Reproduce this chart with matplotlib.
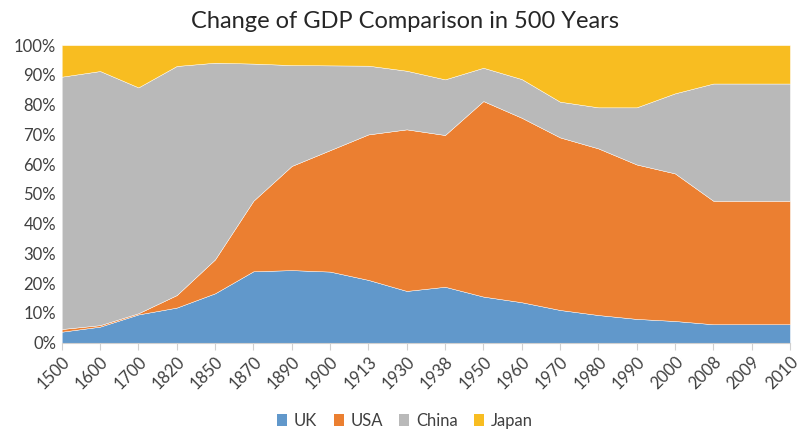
import matplotlib.pyplot as plt
import numpy as np
from matplotlib.patches import Patch
from matplotlib.ticker import PercentFormatter

years = ["1500", "1600", "1700", "1820", "1850", "1870", "1890", "1900", "1913", "1930",
         "1938", "1950", "1960", "1970", "1980", "1990", "2000", "2008", "2009", "2010"]

# share of combined GDP, percent
uk = [3.7, 5.4, 9.5, 11.8, 16.6, 24.0, 24.4, 23.9, 21.1, 17.4,
      18.8, 15.5, 13.6, 11.0, 9.3, 8.0, 7.3, 6.2, 6.2, 6.2]
usa = [0.9, 0.5, 0.4, 4.2, 11.4, 23.7, 35.0, 40.8, 48.9, 54.3,
       51.0, 65.7, 62.0, 58.0, 56.0, 51.9, 49.6, 41.5, 41.5, 41.5]
china = [84.8, 85.4, 75.9, 77.0, 66.1, 46.1, 33.9, 28.5, 23.1, 19.7,
         18.7, 11.2, 13.0, 12.0, 13.8, 19.2, 26.9, 39.4, 39.4, 39.4]
japan = [10.6, 8.7, 14.2, 7.0, 5.9, 6.2, 6.7, 6.8, 6.9, 8.6,
         11.5, 7.6, 11.4, 19.0, 20.9, 20.9, 16.2, 12.9, 12.9, 12.9]

names = ["UK", "USA", "China", "Japan"]
colors = ["#6198CB", "#EB7F31", "#B9B9B9", "#F8BD21"]

plt.rcParams['font.family'] = ['Lato', 'DejaVu Sans']

fig = plt.figure(figsize=(8.1, 4.3), dpi=100)
ax = fig.add_axes([0.0762, 0.203, 0.899, 0.692])

x = np.arange(len(years))
ax.stackplot(x, uk, usa, china, japan, colors=colors, edgecolor="white", linewidth=0.3)

ax.set_xlim(0, len(years) - 1)
ax.set_ylim(0, 100)
ax.set_yticks(range(0, 101, 10))
ax.yaxis.set_major_formatter(PercentFormatter(decimals=0))
ax.set_xticks(x)
ax.set_xticklabels(years, rotation=45, ha="right", rotation_mode="anchor")

for side in ["top", "right", "left"]:
    ax.spines[side].set_visible(False)
ax.spines["bottom"].set_color("#D0D0D0")
ax.tick_params(axis="y", length=0, labelsize=12, labelcolor="#404040", pad=4)
ax.tick_params(axis="x", length=5, color="#D0D0D0", labelsize=12, labelcolor="#404040", pad=3)

fig.text(0.5, 0.951, "Change of GDP Comparison in 500 Years", ha="center", va="center",
         fontsize=17, color="#262626")

handles = [Patch(facecolor=c, label=n) for n, c in zip(names, colors)]
fig.legend(handles=handles, loc="center", bbox_to_anchor=(0.5, 0.022), ncol=4, frameon=False,
           fontsize=12, handlelength=0.6, handleheight=0.7, handletextpad=0.4, columnspacing=1.0,
           labelcolor="#404040")

fig.savefig("out.png", dpi=100)
